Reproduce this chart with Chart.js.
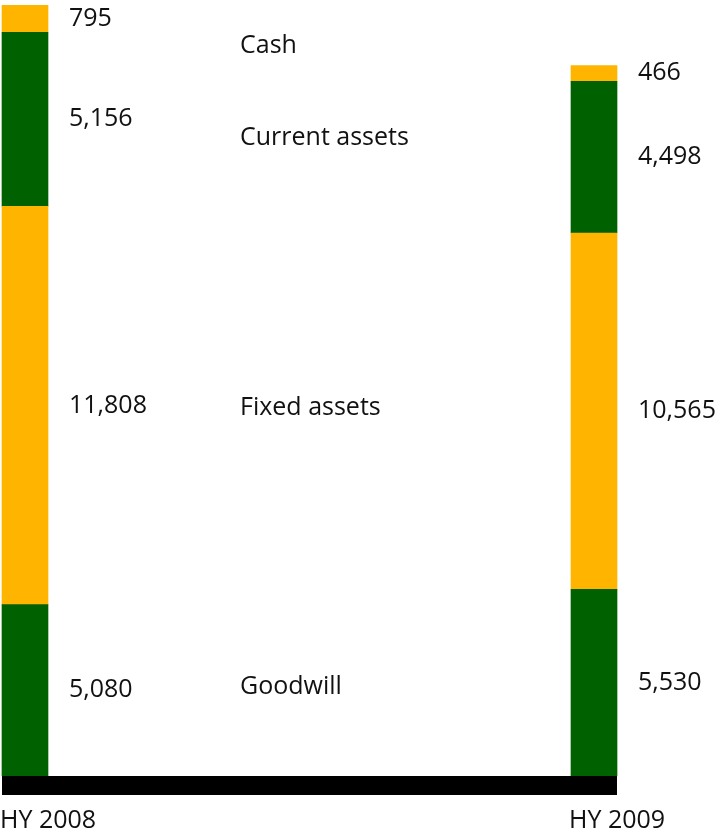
<!DOCTYPE html>
<html>
<head>
<meta charset="utf-8">
<title>Balance sheet HY 2008 vs HY 2009</title>
<script src="https://cdn.jsdelivr.net/npm/chart.js@4.4.0/dist/chart.umd.min.js"></script>
<style>
  html, body { margin: 0; padding: 0; background: #fff; }
  canvas { display: block; }
</style>
</head>
<body>
<canvas id="chart" width="719" height="835"></canvas>
<script>
const periods = ['HY 2008', 'HY 2009'];
const items = ['Goodwill', 'Fixed assets', 'Current assets', 'Cash'];
const goodwill = [5080, 5530];
const fixedAssets = [11808, 10565];
const currentAssets = [5156, 4498];
const cash = [795, 466];

const ORANGE = '#FFB400';
const GREEN = '#006100';
const FONT = '25px "Open Sans", "DejaVu Sans"';

// value labels, item names, base bar and period labels
const labelsPlugin = {
  id: 'labels',
  afterDatasetsDraw(chart) {
    const { ctx, chartArea } = chart;
    ctx.save();
    ctx.font = FONT;
    ctx.textBaseline = 'middle';
    ctx.textAlign = 'left';

    const first = chart.getDatasetMeta(0).data[0];
    const last = chart.getDatasetMeta(0).data[periods.length - 1];
    const left = first.x - first.width / 2;
    const right = last.x + last.width / 2;
    ctx.fillStyle = '#000';
    ctx.fillRect(left, chartArea.bottom, right - left, 19);
    ctx.fillStyle = '#111';

    chart.data.datasets.forEach((ds, i) => {
      const bars = chart.getDatasetMeta(i).data;
      bars.forEach((bar, j) => {
        const mid = (bar.y + bar.base) / 2;
        ctx.fillText(ds.data[j].toLocaleString('en-US'), bar.x + bar.width / 2 + 21, mid);
      });
      const avg = bars.reduce((s, b) => s + (b.y + b.base) / 2, 0) / bars.length;
      ctx.fillText(ds.label, first.x + 215, avg);
    });

    periods.forEach((p, j) => {
      const bar = chart.getDatasetMeta(0).data[j];
      ctx.fillText(p, bar.x - bar.width / 2 - 2, chartArea.bottom + 45);
    });
    ctx.restore();
  }
};

new Chart(document.getElementById('chart'), {
  type: 'bar',
  data: {
    labels: periods,
    datasets: [
      { label: items[0], data: goodwill, backgroundColor: GREEN },
      { label: items[1], data: fixedAssets, backgroundColor: ORANGE },
      { label: items[2], data: currentAssets, backgroundColor: GREEN },
      { label: items[3], data: cash, backgroundColor: ORANGE }
    ]
  },
  options: {
    responsive: false,
    animation: false,
    barThickness: 46,
    clip: false,
    layout: { padding: { left: 25, right: 125, top: 0, bottom: 59 } },
    plugins: {
      legend: { display: false },
      tooltip: { enabled: false }
    },
    scales: {
      x: { stacked: true, offset: false, display: false },
      y: { stacked: true, min: 0, max: 23000, display: false }
    }
  },
  plugins: [labelsPlugin]
});
</script>
</body>
</html>
